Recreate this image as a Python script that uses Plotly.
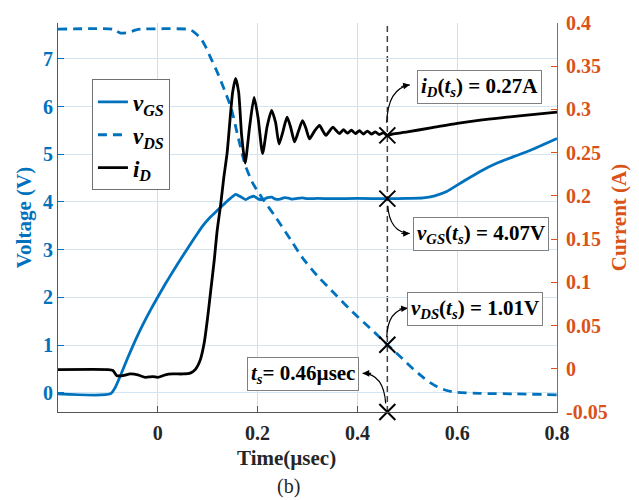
import plotly.graph_objects as go

# ---- waveforms (time in µs) ----
t_vgs = [-0.2, -0.095, -0.085, -0.075, -0.06, -0.045, -0.03, -0.015, 0.0, 0.015, 0.03, 0.045,
         0.06, 0.075, 0.09, 0.105, 0.12, 0.135, 0.146, 0.156, 0.166, 0.176, 0.185,
         0.193, 0.202, 0.21, 0.22, 0.228, 0.236, 0.245, 0.254, 0.262, 0.27, 0.28, 0.29, 0.3,
         0.32, 0.35, 0.4, 0.46, 0.5, 0.532, 0.555, 0.579, 0.612, 0.646, 0.679, 0.713, 0.746, 0.8]
v_gs = [-0.02, -0.02, 0.12, 0.36, 0.74, 1.1, 1.43, 1.73, 2.01, 2.28, 2.54, 2.79,
        3.03, 3.27, 3.5, 3.68, 3.83, 3.98, 4.08, 4.16, 4.11, 4.05, 4.1,
        4.12, 4.06, 4.05, 4.09, 4.1, 4.06, 4.06, 4.09, 4.08, 4.06, 4.075, 4.085, 4.07,
        4.075, 4.07, 4.075, 4.07, 4.075, 4.085, 4.13, 4.22, 4.43, 4.64, 4.81, 4.95, 5.08, 5.33]

t_vds = [-0.2, -0.09, -0.083, -0.075, -0.06, -0.045, -0.035, 0.06, 0.07, 0.086, 0.096, 0.106,
         0.12, 0.133, 0.147, 0.16, 0.175, 0.19, 0.21, 0.237, 0.27, 0.29, 0.32, 0.357, 0.39,
         0.425, 0.46, 0.49, 0.512, 0.53, 0.545, 0.56, 0.579, 0.6, 0.646, 0.713, 0.8]
v_ds = [7.62, 7.62, 7.58, 7.54, 7.55, 7.6, 7.62, 7.62, 7.58, 7.43, 7.25, 7.02,
        6.7, 6.36, 5.97, 5.4, 4.78, 4.4, 4.07, 3.67, 3.15, 2.83, 2.45, 2.05, 1.7,
        1.36, 1.01, 0.72, 0.5, 0.34, 0.22, 0.13, 0.05, 0.01, -0.01, -0.02, -0.04]

t_id = [-0.2, -0.1, -0.09, -0.082, -0.07, -0.055, -0.04, -0.025, -0.01, 0.0, 0.015, 0.03,
        0.05, 0.065, 0.075, 0.085, 0.093, 0.1, 0.106, 0.113, 0.119, 0.126, 0.132, 0.139,
        0.145, 0.15, 0.156, 0.162, 0.168, 0.175, 0.184, 0.193, 0.201, 0.21, 0.219, 0.228,
        0.236, 0.243, 0.251, 0.259, 0.266, 0.274, 0.282, 0.29, 0.297, 0.304, 0.314, 0.324,
        0.33, 0.337, 0.344, 0.351, 0.357, 0.364, 0.372, 0.38, 0.388, 0.396, 0.404, 0.412,
        0.42, 0.428, 0.436, 0.444, 0.452, 0.46, 0.47, 0.5, 0.55, 0.6, 0.65, 0.7, 0.75, 0.8]
i_d = [-0.001, -0.001, -0.002, -0.008, -0.008, -0.006, -0.007, -0.010, -0.009, -0.010, -0.007, -0.006,
       -0.006, -0.005, -0.001, 0.010, 0.03, 0.06, 0.09, 0.125, 0.16, 0.19, 0.22, 0.25,
       0.29, 0.32, 0.336, 0.32, 0.27, 0.238, 0.28, 0.314, 0.29, 0.249, 0.28, 0.299,
       0.285, 0.26, 0.275, 0.291, 0.28, 0.2625, 0.275, 0.287, 0.278, 0.266, 0.275, 0.2815,
       0.276, 0.270, 0.275, 0.2795, 0.276, 0.272, 0.2765, 0.2725, 0.276, 0.272, 0.2755, 0.2715,
       0.275, 0.2715, 0.274, 0.271, 0.273, 0.27, 0.2715, 0.274, 0.279, 0.284, 0.288, 0.291, 0.294, 0.297]

# ---- switching instant and sampled values ----
TS = 0.46
ID_TS = 0.27
VGS_TS = 4.07
VDS_TS = 1.01

BLUE = "#0072BD"
ORANGE = "#D95319"
DARK = "#262626"
SERIF = "Liberation Serif"


def tfont(size, color):
    return dict(family=SERIF, size=size, color=color, weight="bold")


fig = go.Figure()

fig.add_trace(go.Scatter(x=t_vgs, y=v_gs, mode="lines", name="<b><i>v</i><sub><i>GS</i></sub></b>",
                         line=dict(color=BLUE, width=2.8, shape="spline", smoothing=0.6)))
fig.add_trace(go.Scatter(x=t_vds, y=v_ds, mode="lines", name="<b><i>v</i><sub><i>DS</i></sub></b>",
                         line=dict(color=BLUE, width=2.8, dash="9px,6px", shape="spline", smoothing=0.6)))
fig.add_trace(go.Scatter(x=t_id, y=i_d, mode="lines", name="<b><i>i</i><sub><i>D</i></sub></b>",
                         yaxis="y2", line=dict(color="black", width=2.8, shape="spline", smoothing=0.6)))

# cross markers at t_s
fig.add_trace(go.Scatter(x=[TS, TS], y=[VGS_TS, VDS_TS], mode="markers", showlegend=False,
                         marker=dict(symbol="x-thin", size=16, line=dict(color="black", width=2))))
fig.add_trace(go.Scatter(x=[TS, TS], y=[ID_TS, -0.05], mode="markers", showlegend=False, yaxis="y2",
                         cliponaxis=False,
                         marker=dict(symbol="x-thin", size=16, line=dict(color="black", width=2))))

# vertical dashed marker line at t_s
fig.add_shape(type="line", xref="x", yref="paper", x0=TS, x1=TS, y0=0, y1=1,
              line=dict(color="#404040", width=1.5, dash="6px,4px"), layer="below")

# curved leader arrows (quadratic curves in left-axis data units)
curves = [
    ((0.4588, 5.66), (0.4608, 6.38), (0.505, 6.455), (-10, 2)),
    ((0.4608, 3.92), (0.4648, 3.36), (0.505, 3.34), (-10, 0)),
    ((0.4588, 1.166), (0.4608, 1.745), (0.501, 1.776), (-10, 1)),
    ((0.4567, -0.22), (0.4527, 0.40), (0.4105, 0.41), (10, 0)),
]
for (x0, y0), (cx, cy), (x1, y1), (ax, ay) in curves:
    fig.add_shape(type="path", xref="x", yref="y",
                  path=f"M {x0},{y0} Q {cx},{cy} {x1},{y1}",
                  line=dict(color="black", width=1.2))
    fig.add_annotation(x=x1, y=y1, xref="x", yref="y", ax=ax, ay=ay, text="",
                       showarrow=True, arrowhead=2, arrowsize=1.1, arrowwidth=1.2,
                       arrowcolor="black", standoff=0)

box = dict(bgcolor="white", bordercolor="#808080", borderwidth=1, borderpad=3,
           font=dict(family=SERIF, size=21, color="black"), showarrow=False,
           xref="x", yref="y")
fig.add_annotation(x=0.644, y=6.40,
                   text=f"<b><i>i</i><sub><i>D</i></sub>(<i>t</i><sub><i>s</i></sub>) = {ID_TS:.2f}A</b>", **box)
fig.add_annotation(x=0.647, y=3.33,
                   text=f"<b><i>v</i><sub><i>GS</i></sub>(<i>t</i><sub><i>s</i></sub>) = {VGS_TS:.2f}V</b>", **box)
fig.add_annotation(x=0.636, y=1.756,
                   text=f"<b><i>v</i><sub><i>DS</i></sub>(<i>t</i><sub><i>s</i></sub>) = {VDS_TS:.2f}V</b>", **box)
fig.add_annotation(x=0.291, y=0.393,
                   text=f"<b><i>t</i><sub><i>s</i></sub>= {TS:.2f}µsec</b>", **box)

# x-axis caption and panel tag
fig.add_annotation(x=0.457, y=-0.118, xref="paper", yref="paper", showarrow=False,
                   xanchor="center", yanchor="middle",
                   text="<b>Time(µsec)</b>", font=dict(family=SERIF, size=21, color=DARK))
fig.add_annotation(x=0.461, y=-0.192, xref="paper", yref="paper", showarrow=False,
                   xanchor="center", yanchor="middle",
                   text="(b)", font=dict(family=SERIF, size=20, color=DARK))

x_ticks = [0, 0.2, 0.4, 0.6, 0.8]
x_labels = ["0", "0.2", "0.4", "0.6", "0.8"]
v_ticks = [0, 1, 2, 3, 4, 5, 6, 7]
i_ticks = [-0.05, 0, 0.05, 0.1, 0.15, 0.2, 0.25, 0.3, 0.35, 0.4]
i_labels = ["-0.05", "0", "0.05", "0.1", "0.15", "0.2", "0.25", "0.3", "0.35", "0.4"]

fig.update_layout(
    width=639, height=500,
    margin=dict(l=58, r=82, t=18, b=88),
    plot_bgcolor="white", paper_bgcolor="white",
    font=dict(family=SERIF),
    showlegend=True,
    legend=dict(x=0.068, y=0.855, xanchor="left", yanchor="top",
                bgcolor="white", bordercolor="#707070", borderwidth=1,
                font=dict(family=SERIF, size=23, color="black")),
    xaxis=dict(range=[-0.2, 0.8], tickvals=x_ticks, ticktext=x_labels,
               showline=True, linecolor="#555555", linewidth=1.2, mirror=False,
               ticks="inside", ticklen=6, tickcolor="#555555",
               showgrid=True, gridcolor="#dcdcdc", gridwidth=1, zeroline=False,
               tickfont=tfont(20, DARK), ticklabelstandoff=3),
    yaxis=dict(range=[-0.4, 7.75], tickvals=v_ticks,
               showline=True, linecolor=BLUE, linewidth=1.2,
               ticks="inside", ticklen=6, tickcolor=BLUE,
               showgrid=True, gridcolor="#d3e5f3", gridwidth=1, zeroline=False,
               tickfont=tfont(20, BLUE),
               title=dict(text="<b>Voltage (V)</b>", font=dict(family=SERIF, size=21, color=BLUE),
                          standoff=5)),
    yaxis2=dict(range=[-0.05, 0.4], tickvals=i_ticks, ticktext=i_labels,
                overlaying="y", side="right",
                showline=True, linecolor=ORANGE, linewidth=1.2,
                ticks="inside", ticklen=6, tickcolor=ORANGE,
                showgrid=False, zeroline=False,
                tickfont=tfont(20, ORANGE), ticklabelstandoff=4,
                title=dict(text="<b>Current (A)</b>", font=dict(family=SERIF, size=21, color=ORANGE),
                           standoff=4)),
)

fig.write_html("out.html")
